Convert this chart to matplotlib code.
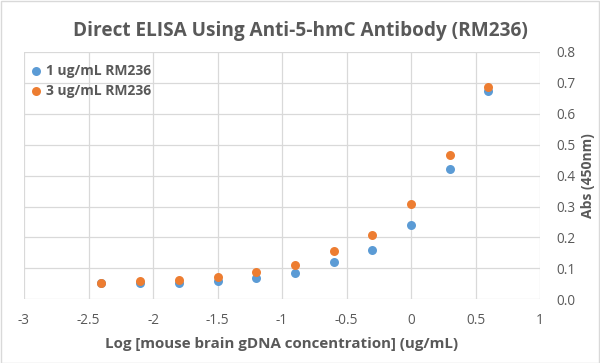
import matplotlib
matplotlib.use("Agg")
import matplotlib.pyplot as plt
from matplotlib.ticker import FormatStrFormatter

log_conc = [-2.4, -2.1, -1.8, -1.5, -1.2, -0.9, -0.6, -0.3, 0.0, 0.3, 0.6]
abs_1ug = [0.052, 0.052, 0.052, 0.061, 0.070, 0.086, 0.121, 0.160, 0.241, 0.421, 0.672]
abs_3ug = [0.054, 0.060, 0.062, 0.073, 0.090, 0.111, 0.157, 0.207, 0.307, 0.465, 0.686]
labels = ["1 ug/mL RM236", "3 ug/mL RM236"]
title = "Direct ELISA Using Anti-5-hmC Antibody (RM236)"
xlabel = "Log [mouse brain gDNA concentration] (ug/mL)"
ylabel = "Abs (450nm)"

plt.rcParams['font.family'] = ['Open Sans', 'DejaVu Sans']
gray = '#595959'

fig = plt.figure(figsize=(6.0, 3.63), dpi=100)
fig.patch.set_facecolor('white')
ax = fig.add_axes([0.04, 0.175, 0.86, 0.683])

ax.scatter(log_conc, abs_1ug, s=42, color='#5B9BD5', label=labels[0], zorder=3, linewidths=0)
ax.scatter(log_conc, abs_3ug, s=42, color='#ED7D31', label=labels[1], zorder=4, linewidths=0)

ax.set_xlim(-3, 1)
ax.set_ylim(0, 0.8)
ax.set_xticks([-3, -2.5, -2, -1.5, -1, -0.5, 0, 0.5, 1])
ax.set_xticklabels(["-3", "-2.5", "-2", "-1.5", "-1", "-0.5", "0", "0.5", "1"])
ax.set_yticks([i / 10 for i in range(9)])
ax.yaxis.set_major_formatter(FormatStrFormatter('%.1f'))
ax.yaxis.tick_right()
ax.yaxis.set_label_position('right')
ax.grid(True, color='#D9D9D9', linewidth=0.9, zorder=0)
ax.set_axisbelow(True)
for s in ax.spines.values():
    s.set_visible(False)
ax.tick_params(axis='both', length=0, labelsize=9.8, colors=gray)
ax.tick_params(axis='x', pad=10)
ax.tick_params(axis='y', pad=12)

ax.set_xlabel(xlabel, fontsize=10.9, fontweight='bold', color=gray, labelpad=6)
ax.set_ylabel(ylabel, fontsize=10, fontweight='bold', color=gray, labelpad=4)

fig.text(0.5, 0.915, title, ha='center', va='center', fontsize=13.7,
         fontweight='bold', color=gray)

leg = ax.legend(loc='upper left', bbox_to_anchor=(-0.012, 0.99), frameon=False,
                handletextpad=0.1, labelspacing=0.45, borderaxespad=0.3,
                prop={'size': 10, 'weight': 'bold'}, labelcolor=gray,
                handlelength=1.2)

fig.add_artist(plt.Rectangle((0.001, 0.001), 0.997, 0.997, transform=fig.transFigure,
                             fill=False, edgecolor='#D9D9D9', linewidth=1))

fig.savefig('out.png', dpi=100, facecolor='white')
